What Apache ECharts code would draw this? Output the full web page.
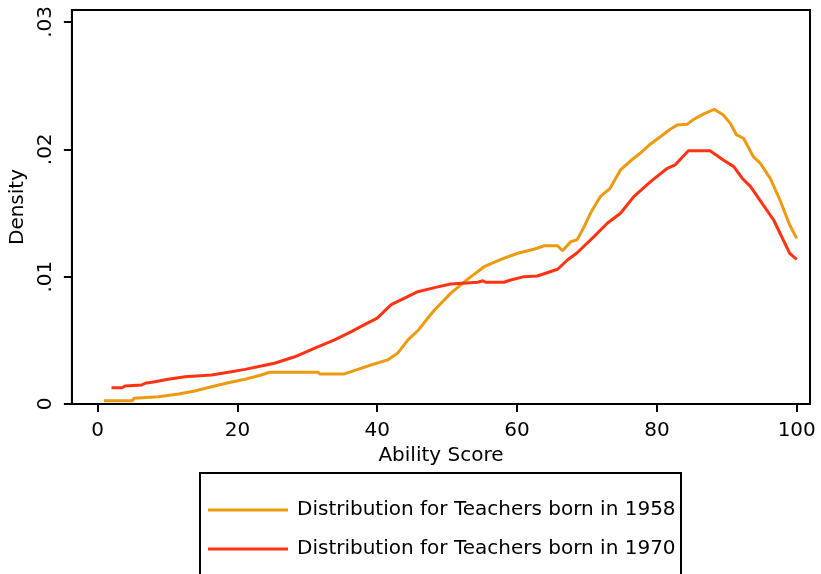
<!DOCTYPE html>
<html>
<head>
<meta charset="utf-8">
<style>html,body{margin:0;padding:0;background:#fff;}#chart{width:821px;height:574px;}</style>
<script src="https://cdn.jsdelivr.net/npm/echarts@6/dist/echarts.min.js"></script>
</head>
<body>
<div id="chart"></div>
<script>
// ---- data ----
const x1958 = [0.9,5.0,5.2,8.7,11.6,13.9,16.3,18.7,21.1,23.4,24.6,28.2,31.5,31.8,35.3,36.7,39.1,41.5,42.9,44.4,45.9,47.2,48.2,50.5,52.9,55.3,57.7,60.1,62.4,63.9,65.8,66.5,67.7,68.6,69.6,70.5,71.9,73.3,74.8,76.2,77.6,79.1,80.5,81.9,82.9,84.3,85.3,86.7,88.2,89.5,90.5,91.4,92.4,93.8,94.8,96.2,97.6,99.0,100.0];
const y1958 = [0.00026,0.00026,0.00045,0.00057,0.00079,0.00102,0.00136,0.00167,0.00194,0.00228,0.00249,0.00249,0.00249,0.00236,0.00236,0.00262,0.00306,0.00346,0.00398,0.00503,0.00581,0.00673,0.00738,0.00869,0.00979,0.01078,0.01136,0.01184,0.01215,0.01243,0.01243,0.01204,0.01275,0.01290,0.01393,0.01498,0.01628,0.01694,0.01838,0.01908,0.01969,0.02042,0.02099,0.02157,0.02191,0.02196,0.02236,0.02278,0.02314,0.02270,0.02204,0.02113,0.02087,0.01942,0.01890,0.01773,0.01602,0.01406,0.01301];
const x1970 = [2.0,3.5,3.9,6.3,6.8,8.2,10.1,12.5,16.3,18.7,21.1,23.4,25.3,28.2,31.0,33.9,36.3,37.7,40.0,42.0,43.4,45.8,48.2,50.5,54.4,55.1,55.5,58.1,59.1,61.0,62.9,64.3,65.8,67.2,68.6,70.0,71.0,72.9,74.8,76.7,79.1,81.5,82.6,84.5,87.6,89.5,91.0,92.2,93.4,95.2,96.7,99.0,100.0];
const y1970 = [0.00128,0.00128,0.00141,0.00149,0.00163,0.00175,0.00194,0.00214,0.00228,0.00249,0.00272,0.00298,0.00320,0.00371,0.00437,0.00503,0.00568,0.00610,0.00675,0.00780,0.00817,0.00882,0.00914,0.00942,0.00956,0.00968,0.00956,0.00956,0.00974,0.01000,0.01005,0.01031,0.01058,0.01131,0.01188,0.01262,0.01314,0.01419,0.01498,0.01628,0.01746,0.01851,0.01877,0.01989,0.01989,0.01916,0.01864,0.01773,0.01707,0.01563,0.01445,0.01183,0.01136];
const seriesNames = ['Distribution for Teachers born in 1958','Distribution for Teachers born in 1970'];
const xTickValues = [0,20,40,60,80,100];
const yTickValues = [0,0.01,0.02,0.03];
const yTickLabels = ['0','.01','.02','.03'];
const xTitle = 'Ability Score';
const yTitle = 'Density';

const pairs = (xs, ys) => xs.map((x, i) => [x, ys[i]]);
const FONT = 'DejaVu Sans';
const C1958 = '#EC9A10', C1970 = '#FF3311';
const chart = echarts.init(document.getElementById('chart'), null, {renderer: 'canvas'});
chart.setOption({
  backgroundColor: '#fff',
  animation: false,
  grid: {left: 70, right: 11, top: 10, bottom: 170, show: true, borderColor: '#000', borderWidth: 2, containLabel: false},
  xAxis: {
    type: 'value', min: -3.67, max: 101.9,
    name: xTitle, nameLocation: 'middle', nameGap: 34,
    nameTextStyle: {fontFamily: FONT, fontSize: 20, color: '#000'},
    axisLine: {show: true, onZero: false, lineStyle: {color: '#000', width: 2}},
    axisTick: {show: true, length: 8, lineStyle: {color: '#000', width: 2}, customValues: xTickValues},
    axisLabel: {fontFamily: FONT, fontSize: 20, color: '#000', margin: 17, customValues: xTickValues},
    splitLine: {show: false}
  },
  yAxis: {
    type: 'value', min: 0, max: 0.03094,
    name: yTitle, nameLocation: 'middle', nameGap: 43,
    nameTextStyle: {fontFamily: FONT, fontSize: 20, color: '#000'},
    axisLine: {show: true, onZero: false, lineStyle: {color: '#000', width: 2}},
    axisTick: {show: true, length: 8, lineStyle: {color: '#000', width: 2}, customValues: yTickValues},
    axisLabel: {fontFamily: FONT, fontSize: 20, color: '#000', margin: 16, rotate: 90,
      customValues: yTickValues,
      formatter: v => { const i = yTickValues.findIndex(t => Math.abs(t - v) < 1e-9); return i >= 0 ? yTickLabels[i] : ''; }},
    splitLine: {show: false}
  },
  legend: {
    orient: 'vertical', left: 208, top: 499, padding: 0,
    icon: 'rect', itemWidth: 80, itemHeight: 3, itemGap: 17,
    textStyle: {fontFamily: FONT, fontSize: 20, color: '#000', lineHeight: 22, padding: [0,0,0,4]},
    data: seriesNames
  },
  graphic: [{type: 'rect', shape: {x: 200, y: 473, width: 481, height: 110}, style: {fill: 'none', stroke: '#000', lineWidth: 2}, silent: true, z: 100}],
  series: [
    {name: seriesNames[0], type: 'line', data: pairs(x1958, y1958), symbol: 'none', lineStyle: {color: C1958, width: 3}, itemStyle: {color: C1958}},
    {name: seriesNames[1], type: 'line', data: pairs(x1970, y1970), symbol: 'none', lineStyle: {color: C1970, width: 3}, itemStyle: {color: C1970}}
  ]
});
</script>
</body>
</html>
